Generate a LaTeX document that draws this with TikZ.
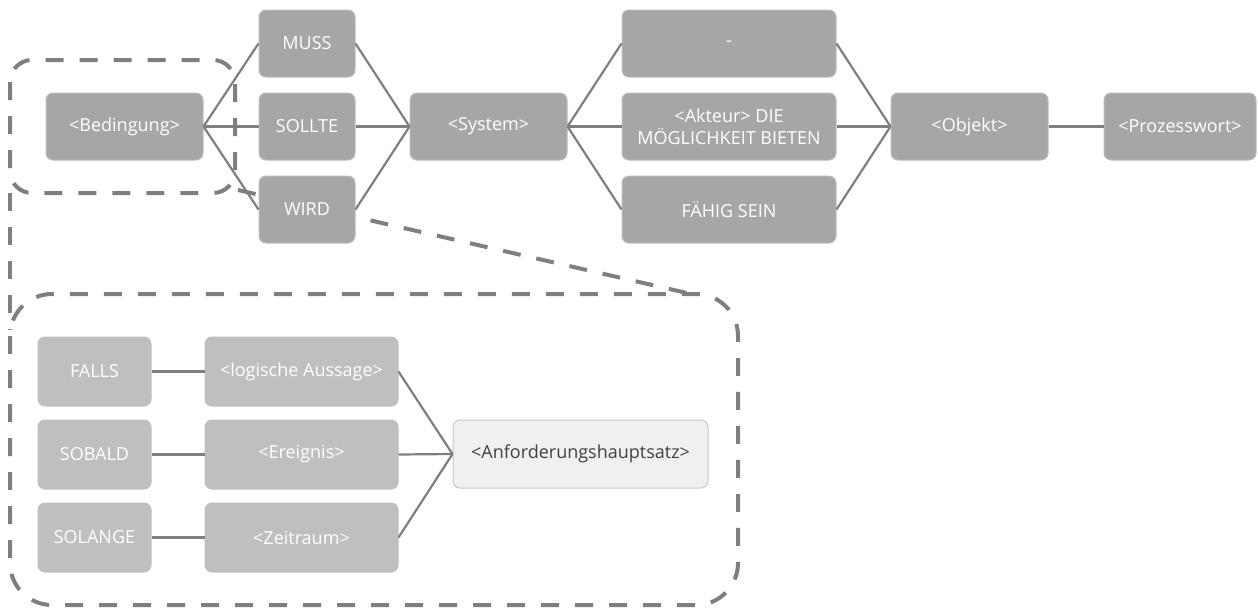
\documentclass[tikz,border=0pt]{standalone}
\usepackage{fontspec}
\setmainfont{Open Sans}
\definecolor{boxdark}{HTML}{A6A6A6}
\definecolor{boxedge}{HTML}{BDBDBD}
\definecolor{boxlight}{HTML}{BFBFBF}
\definecolor{lineg}{HTML}{7F7F7F}
\definecolor{mainfill}{HTML}{F0F0F0}
\definecolor{mainedge}{HTML}{C8C8C8}
\definecolor{maintext}{HTML}{404040}
\tikzset{
  box/.style={rectangle, rounded corners=7pt, inner sep=0pt, align=center,
    font=\fontsize{18}{22}\selectfont, text=white, fill=boxdark, draw=boxedge, line width=1pt},
  lbox/.style={box, fill=boxlight, draw=boxlight},
  mainbox/.style={box, fill=mainfill, draw=mainedge, text=maintext},
  link/.style={draw=lineg, line width=2.2pt},
  zoomline/.style={draw=lineg, line width=4pt, dash pattern=on 18pt off 16pt}
}
\begin{document}
\begin{tikzpicture}[x=1pt,y=-1pt]
\useasboundingbox (0,0) rectangle (1258,608);

% magnifier outline around the condition part
\draw[zoomline, rounded corners=22pt] (10,60) rectangle (235,193);
\draw[zoomline, rounded corners=42pt] (10,294) rectangle (738,605);
\draw[zoomline] (10,193) -- (10,330);
\draw[zoomline] (238,190) -- (700,296);

% main sentence template
\node[box, minimum width=157pt, minimum height=67pt] (bed) at (124.5,126.5) {<Bedingung>};
\node[box, minimum width=96pt, minimum height=67pt] (muss) at (307,43.5) {MUSS};
\node[box, minimum width=96pt, minimum height=67pt] (sollte) at (307,126.5) {SOLLTE};
\node[box, minimum width=96pt, minimum height=67pt] (wird) at (307,209.5) {WIRD};
\node[box, minimum width=157pt, minimum height=67pt] (sys) at (488.5,126.5) {<System>};
\node[box, minimum width=214pt, minimum height=67pt] (none) at (729,43.5) {-};
\node[box, minimum width=214pt, minimum height=67pt] (akt) at (729,126.5) {<Akteur> DIE\\MÖGLICHKEIT BIETEN};
\node[box, minimum width=214pt, minimum height=67pt] (faehig) at (729,209.5) {FÄHIG SEIN};
\node[box, minimum width=157pt, minimum height=67pt] (obj) at (969.5,126.5) {<Objekt>};
\node[box, minimum width=152pt, minimum height=67pt] (proz) at (1180,126.5) {<Prozesswort>};

% condition variants
\node[lbox, minimum width=113pt, minimum height=69pt] (falls) at (94.5,371.5) {FALLS};
\node[lbox, minimum width=113pt, minimum height=69pt] (sobald) at (94.5,454.5) {SOBALD};
\node[lbox, minimum width=113pt, minimum height=69pt] (solange) at (94.5,537.5) {SOLANGE};
\node[lbox, minimum width=193pt, minimum height=69pt] (logik) at (301.5,371.5) {<logische Aussage>};
\node[lbox, minimum width=193pt, minimum height=69pt] (ereig) at (301.5,454.5) {<Ereignis>};
\node[lbox, minimum width=193pt, minimum height=69pt] (zeit) at (301.5,537.5) {<Zeitraum>};
\node[mainbox, minimum width=255pt, minimum height=68pt] (haupt) at (580.5,454) {<Anforderungshauptsatz>};

% connectors
\foreach \n in {muss,sollte,wird} {
  \draw[link] (bed.east) -- (\n.west);
  \draw[link] (\n.east) -- (sys.west);
}
\foreach \n in {none,akt,faehig} {
  \draw[link] (sys.east) -- (\n.west);
  \draw[link] (\n.east) -- (obj.west);
}
\draw[link] (obj.east) -- (proz.west);
\draw[link] (falls.east) -- (logik.west);
\draw[link] (sobald.east) -- (ereig.west);
\draw[link] (solange.east) -- (zeit.west);
\foreach \n in {logik,ereig,zeit} {
  \draw[link] (\n.east) -- (haupt.west);
}
\end{tikzpicture}
\end{document}
